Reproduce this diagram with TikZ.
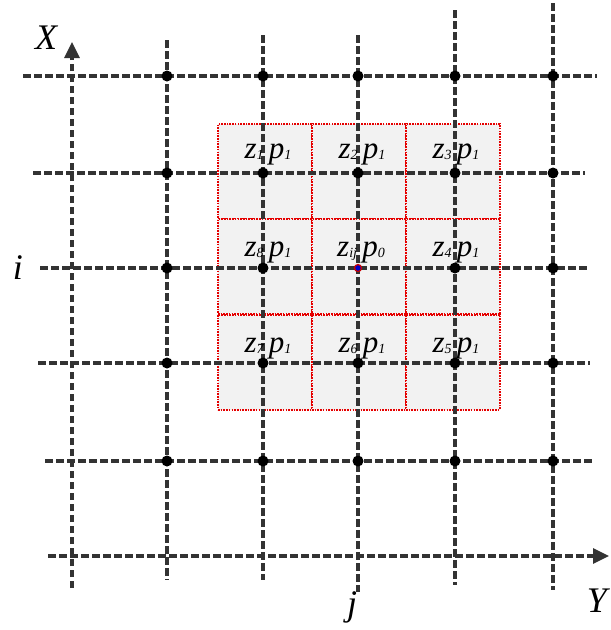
\documentclass[tikz,border=0pt]{standalone}
\usepackage{fontspec}
\setmainfont{Liberation Serif}
\usetikzlibrary{arrows.meta}
\newcommand{\sbs}[1]{\raisebox{-1.5pt}{\fontsize{14}{14}\selectfont #1}}
\begin{document}
\begin{tikzpicture}[x=1pt,y=-1pt,
 gridline/.style={draw=black!80, line width=3.2pt, dash pattern=on 7.5pt off 3.5pt},
 axisline/.style={gridline, -{Triangle[length=16pt,width=15pt]}},
 dot/.style={circle, fill=black, inner sep=0pt, minimum size=11pt},
 cdot/.style={circle, fill=blue!80!black, draw=red!80!black, line width=1.2pt, inner sep=0pt, minimum size=7pt},
 cell/.style={rectangle, draw=red!90!black, line width=2pt, dash pattern=on 1.6pt off 1.1pt, fill=black!5, inner sep=0pt, minimum width=94pt, minimum height=95pt},
 lbl/.style={font=\fontsize{31}{33}\selectfont\itshape, inner sep=0pt, anchor=base},
 axislbl/.style={font=\fontsize{36}{38}\selectfont\itshape, inner sep=0pt}]
\useasboundingbox (0,0) rectangle (611,630);
% cells
\foreach \n/\x/\y in {1/265/171.5,2/359/171.5,3/453/171.5,8/265/266.5,0/359/266.5,4/453/266.5,7/265/362,6/359/362,5/453/362}
  \node[cell] (c\n) at (\x,\y) {};
% grid lines
\foreach \x/\t/\b in {167/40/580,263/35/580,358/35/592,455/10/585,553/3/590}
  \draw[gridline] (\x,\t) -- (\x,\b);
\foreach \y/\l/\r in {76/23/597,173/33/585,268/40/590,363/38/590,461/45/595}
  \draw[gridline] (\l,\y) -- (\r,\y);
% axes
\coordinate (xa0) at (72,588);
\coordinate (xa1) at (72,42);
\coordinate (ya0) at (48,556);
\coordinate (ya1) at (609,556);
\draw[axisline] (xa0) -- (xa1);
\draw[axisline] (ya0) -- (ya1);
% dots
\foreach \x in {167,263,358,455,553}
  \foreach \y in {76,173,363,461}
    \node[dot] (d-\x-\y) at (\x,\y) {};
\foreach \x in {167,263,455,553}
  \node[dot] (d-\x-268) at (\x,268) {};
\node[cdot] (center) at (358,268) {};
% cell labels
\node[lbl] (l1) at (268,158) {z\sbs{1}\,p\sbs{1}};
\node[lbl] (l2) at (362,158) {z\sbs{2}\,p\sbs{1}};
\node[lbl] (l3) at (456,158) {z\sbs{3}\,p\sbs{1}};
\node[lbl] (l8) at (268,256) {z\sbs{8}\,p\sbs{1}};
\node[lbl] (l0) at (361,256) {z\sbs{ij}\,p\sbs{0}};
\node[lbl] (l4) at (456,256) {z\sbs{4}\,p\sbs{1}};
\node[lbl] (l7) at (268,352) {z\sbs{7}\,p\sbs{1}};
\node[lbl] (l6) at (362,352) {z\sbs{6}\,p\sbs{1}};
\node[lbl] (l5) at (456,352) {z\sbs{5}\,p\sbs{1}};
% axis labels
\node[axislbl] (X) at (46,38) {X};
\node[axislbl] (i) at (18,268) {i};
\node[axislbl] (j) at (352,607) {j};
\node[axislbl] (Y) at (597,601) {Y};
\end{tikzpicture}
\end{document}
